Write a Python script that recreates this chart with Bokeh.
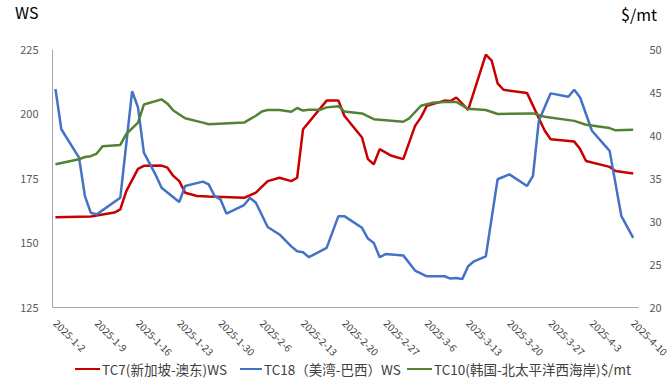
import pandas as pd
from bokeh.plotting import figure
from bokeh.models import Range1d, LinearAxis, FixedTicker, Div
from bokeh.layouts import column
from bokeh.embed import file_html
from bokeh.resources import INLINE

# ---- data ----
tc7_dates = ["2025-01-02", "2025-01-08", "2025-01-12", "2025-01-13", "2025-01-14", "2025-01-16",
             "2025-01-17", "2025-01-20", "2025-01-21", "2025-01-22", "2025-01-23", "2025-01-24",
             "2025-01-26", "2025-01-28", "2025-02-03", "2025-02-05", "2025-02-07", "2025-02-09",
             "2025-02-11", "2025-02-12", "2025-02-13", "2025-02-17", "2025-02-19", "2025-02-20",
             "2025-02-23", "2025-02-24", "2025-02-25", "2025-02-26", "2025-02-28", "2025-03-02",
             "2025-03-04", "2025-03-05", "2025-03-06", "2025-03-09", "2025-03-10", "2025-03-11",
             "2025-03-13", "2025-03-16", "2025-03-17", "2025-03-18", "2025-03-19", "2025-03-23",
             "2025-03-26", "2025-03-27", "2025-03-31", "2025-04-01", "2025-04-02", "2025-04-06",
             "2025-04-07", "2025-04-10"]
tc7_ws = [160, 160.3, 161.8, 163, 170, 178.7, 179.9, 180, 179.2, 176, 174, 169.5,
          168.2, 168, 167.5, 169.5, 174, 175.3, 174, 175.3, 194.1, 205.2, 205.2, 199.3,
          190.9, 182.5, 180.5, 186.4, 183.8, 182.5, 195.4, 198.7, 203.2, 205.2, 205, 206.4,
          201.6, 223, 220.7, 211.9, 209.4, 208.1, 193.5, 190.2, 189.3, 186.4, 181.8, 179.5,
          177.9, 176.9]

tc18_dates = ["2025-01-02", "2025-01-03", "2025-01-06", "2025-01-07", "2025-01-08", "2025-01-09",
              "2025-01-13", "2025-01-15", "2025-01-16", "2025-01-17", "2025-01-19", "2025-01-20",
              "2025-01-23", "2025-01-24", "2025-01-27", "2025-01-28", "2025-01-29", "2025-01-30",
              "2025-01-31", "2025-02-03", "2025-02-04", "2025-02-05", "2025-02-07", "2025-02-09",
              "2025-02-11", "2025-02-12", "2025-02-13", "2025-02-14", "2025-02-17", "2025-02-19",
              "2025-02-20", "2025-02-23", "2025-02-24", "2025-02-25", "2025-02-26", "2025-02-27",
              "2025-03-02", "2025-03-04", "2025-03-06", "2025-03-09", "2025-03-10", "2025-03-11",
              "2025-03-12", "2025-03-13", "2025-03-14", "2025-03-16", "2025-03-18", "2025-03-20",
              "2025-03-23", "2025-03-24", "2025-03-25", "2025-03-27", "2025-03-30", "2025-03-31",
              "2025-04-01", "2025-04-03", "2025-04-06", "2025-04-08", "2025-04-10"]
tc18_ws = [209.7, 194.1, 183.1, 168.2, 161.7, 161.1, 167.5, 208.8, 202.6, 185, 176.4, 171.4,
           165.9, 172.1, 173.8, 172.7, 168.2, 166.9, 161.4, 164.7, 167.5, 165.6, 156.2, 153.3,
           148.7, 146.8, 146.4, 144.5, 148.1, 160.4, 160.4, 155.9, 151.7, 150, 144.5, 145.7,
           145.2, 139.3, 137.1, 137.1, 136.2, 136.4, 136, 141, 142.9, 144.8, 174.7, 176.6,
           172.1, 176, 197.4, 208, 206.7, 209.4, 206.4, 193.5, 185.7, 160.4, 152]

tc10_dates = ["2025-01-02", "2025-01-06", "2025-01-07", "2025-01-08", "2025-01-09", "2025-01-10",
              "2025-01-13", "2025-01-14", "2025-01-16", "2025-01-17", "2025-01-20", "2025-01-21",
              "2025-01-22", "2025-01-24", "2025-01-27", "2025-01-28", "2025-02-03", "2025-02-04",
              "2025-02-05", "2025-02-06", "2025-02-07", "2025-02-09", "2025-02-11", "2025-02-12",
              "2025-02-13", "2025-02-14", "2025-02-16", "2025-02-17", "2025-02-19", "2025-02-20",
              "2025-02-23", "2025-02-25", "2025-03-02", "2025-03-03", "2025-03-05", "2025-03-07",
              "2025-03-09", "2025-03-11", "2025-03-13", "2025-03-16", "2025-03-18", "2025-03-24",
              "2025-03-26", "2025-03-31", "2025-04-02", "2025-04-06", "2025-04-07", "2025-04-10"]
tc10_usd = [36.66, 37.24, 37.5, 37.6, 37.9, 38.75, 38.9, 40.16, 41.5, 43.6, 44.2, 43.7,
            42.9, 42.0, 41.5, 41.3, 41.5, 41.9, 42.3, 42.8, 42.96, 42.96, 42.76, 43.2,
            42.9, 43.0, 43.0, 43.27, 43.4, 42.8, 42.56, 41.9, 41.6, 42.0, 43.46, 43.8,
            43.9, 43.9, 43.1, 42.96, 42.5, 42.57, 42.18, 41.7, 41.25, 40.86, 40.6, 40.66]

tick_dates = ["2025-01-02", "2025-01-09", "2025-01-16", "2025-01-23", "2025-01-30", "2025-02-06",
              "2025-02-13", "2025-02-20", "2025-02-27", "2025-03-06", "2025-03-13", "2025-03-20",
              "2025-03-27", "2025-04-03", "2025-04-10"]
tick_labels = ["2025-1-2", "2025-1-9", "2025-1-16", "2025-1-23", "2025-1-30", "2025-2-6",
               "2025-2-13", "2025-2-20", "2025-2-27", "2025-3-6", "2025-3-13", "2025-3-20",
               "2025-3-27", "2025-4-3", "2025-4-10"]
left_ticks = [125, 150, 175, 200, 225]
right_ticks = [20, 25, 30, 35, 40, 45, 50]

series_names = ["TC7(新加坡-澳东)WS", "TC18（美湾-巴西）WS", "TC10(韩国-北太平洋西海岸)$/mt"]
left_title = "WS"
right_title = "$/mt"
colors = ["#C80000", "#4472C4", "#548235"]

base = pd.Timestamp("2025-01-02")


def to_days(ds):
    return [(pd.Timestamp(d) - base).days for d in ds]


FONT = "Noto Sans CJK SC"
TICK_COLOR = "#595959"
AXIS_COLOR = "#A6A6A6"
HEAD_H = 28
FOOT_H = 18
W, H = 670, 380

# unit titles row (HTML text above the plot)
head = Div(
    text=(f'<div style="position:relative;width:{W}px;height:{HEAD_H}px;'
          f'font-family:\'{FONT}\';font-size:16px;color:#000;line-height:20px;">'
          f'<span style="position:absolute;left:15px;top:2px;">{left_title}</span>'
          f'<span style="position:absolute;left:621px;top:4px;">{right_title}</span></div>'),
    width=W, height=HEAD_H, margin=0)

# legend row (HTML below the plot)
sample_left = [75, 240, 407]
sample_w = [25, 22, 25]
items = []
for name, col, sx, sw in zip(series_names, colors, sample_left, sample_w):
    items.append(f'<span style="position:absolute;left:{sx}px;top:6px;width:{sw}px;height:0;'
                 f'border-top:2.5px solid {col};"></span>')
    items.append(f'<span style="position:absolute;left:{sx + sw + 2}px;top:-2px;'
                 f'white-space:nowrap;">{name}</span>')
foot = Div(
    text=(f'<div style="position:relative;width:{W}px;height:{FOOT_H}px;'
          f'font-family:\'{FONT}\';font-size:13.5px;color:#404040;line-height:18px;">'
          + "".join(items) + '</div>'),
    width=W, height=FOOT_H, margin=0)

p = figure(width=W, height=H - HEAD_H - FOOT_H, output_backend="svg", toolbar_location=None,
           x_range=Range1d(-0.5, 98.9), y_range=Range1d(125, 225),
           min_border_left=52, min_border_right=32, min_border_top=49 - HEAD_H,
           min_border_bottom=54)
p.extra_y_ranges = {"usd": Range1d(20, 50)}
p.grid.visible = False
p.outline_line_color = None
p.background_fill_color = "white"
p.border_fill_color = "white"

r1 = p.line(to_days(tc7_dates), tc7_ws, line_color=colors[0], line_width=2.5)
r2 = p.line(to_days(tc18_dates), tc18_ws, line_color=colors[1], line_width=2.5)
r3 = p.line(to_days(tc10_dates), tc10_usd, line_color=colors[2], line_width=2.5, y_range_name="usd")

# x axis
xa = p.xaxis[0]
tick_vals = to_days(tick_dates)
xa.ticker = FixedTicker(ticks=tick_vals)
xa.major_label_overrides = {v: l for v, l in zip(tick_vals, tick_labels)}
xa.major_label_orientation = -0.7854
xa.major_tick_line_color = None
xa.minor_tick_line_color = None
xa.axis_line_color = AXIS_COLOR
xa.major_label_text_font = FONT
xa.major_label_text_font_size = "10px"
xa.major_label_text_color = "#404040"
xa.major_label_standoff = 8

# left axis
ya = p.yaxis[0]
ya.ticker = FixedTicker(ticks=left_ticks)
ya.major_tick_line_color = None
ya.minor_tick_line_color = None
ya.axis_line_color = AXIS_COLOR
ya.major_label_text_font = FONT
ya.major_label_text_font_size = "11px"
ya.major_label_text_color = TICK_COLOR
ya.major_label_standoff = 8

# right axis
ra = LinearAxis(y_range_name="usd", ticker=FixedTicker(ticks=right_ticks))
ra.major_tick_line_color = None
ra.minor_tick_line_color = None
ra.axis_line_color = None
ra.major_label_text_font = FONT
ra.major_label_text_font_size = "11px"
ra.major_label_text_color = TICK_COLOR
ra.major_label_standoff = 5
p.add_layout(ra, "right")

layout = column(head, p, foot, spacing=0)
open("out.html", "w").write(file_html(layout, INLINE))
